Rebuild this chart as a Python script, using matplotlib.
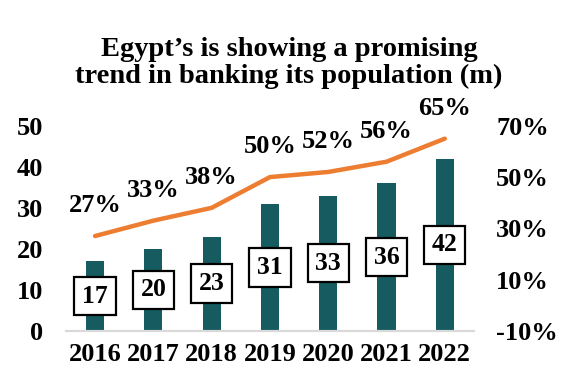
import matplotlib.pyplot as plt

# Chart data
years = ["2016", "2017", "2018", "2019", "2020", "2021", "2022"]
banked_m = [17, 20, 23, 31, 33, 36, 42]          # banked population (m)
inclusion_pct = [27, 33, 38, 50, 52, 56, 65]     # share of population (%)

bar_color = "#155B5F"
line_color = "#ED7D31"

plt.rcParams['font.family'] = ['Liberation Serif', 'DejaVu Serif']
plt.rcParams['font.weight'] = 'bold'

fig = plt.figure(figsize=(5.78, 3.79), dpi=100)
ax1 = fig.add_axes([0.114, 0.127, 0.706, 0.541])
ax2 = ax1.twinx()

x = list(range(len(years)))

# Bars with boxed labels in the middle
ax1.bar(x, banked_m, width=0.31, color=bar_color, zorder=2)
for xi, v in zip(x, banked_m):
    ax1.text(xi, v / 2, str(v), ha='center', va='center', fontsize=18.5,
             fontweight='bold', zorder=4,
             bbox=dict(boxstyle='square,pad=0.3', facecolor='white',
                       edgecolor='black', linewidth=1.6))

ax1.set_ylim(0, 50)
ax1.set_xlim(-0.5, len(years) - 0.5)
ax1.set_yticks([0, 10, 20, 30, 40, 50])
ax1.set_xticks(x)
ax1.set_xticklabels(years)

# Line on the secondary axis
ax2.plot(x, inclusion_pct, color=line_color, linewidth=3.2,
         solid_capstyle='round', zorder=3)
for xi, p in zip(x, inclusion_pct):
    ax2.annotate(f"{p}%", (xi, p), xytext=(0, 22), textcoords='offset points',
                 ha='center', va='center', fontsize=19, fontweight='bold',
                 annotation_clip=False)
ax2.set_ylim(-10, 70)
ax2.set_yticks([-10, 10, 30, 50, 70])
ax2.set_yticklabels([f"{t}%" for t in [-10, 10, 30, 50, 70]])

for ax in (ax1, ax2):
    for side in ('top', 'left', 'right'):
        ax.spines[side].set_visible(False)
    ax.spines['bottom'].set_color('#D9D9D9')
    ax.spines['bottom'].set_linewidth(1.5)
    ax.tick_params(length=0, labelsize=19)

ax1.tick_params(axis='y', pad=16.5)
ax1.tick_params(axis='x', pad=9)
ax2.tick_params(axis='y', pad=16)
for lbl in ax1.get_xticklabels() + ax1.get_yticklabels() + ax2.get_yticklabels():
    lbl.set_fontweight('bold')

fig.text(0.5, 0.833, "Egypt\u2019s is showing a promising\ntrend in banking its population (m)",
         ha='center', va='center', fontsize=20.5, fontweight='bold',
         linespacing=1.1)

fig.savefig("out.png", dpi=100)
